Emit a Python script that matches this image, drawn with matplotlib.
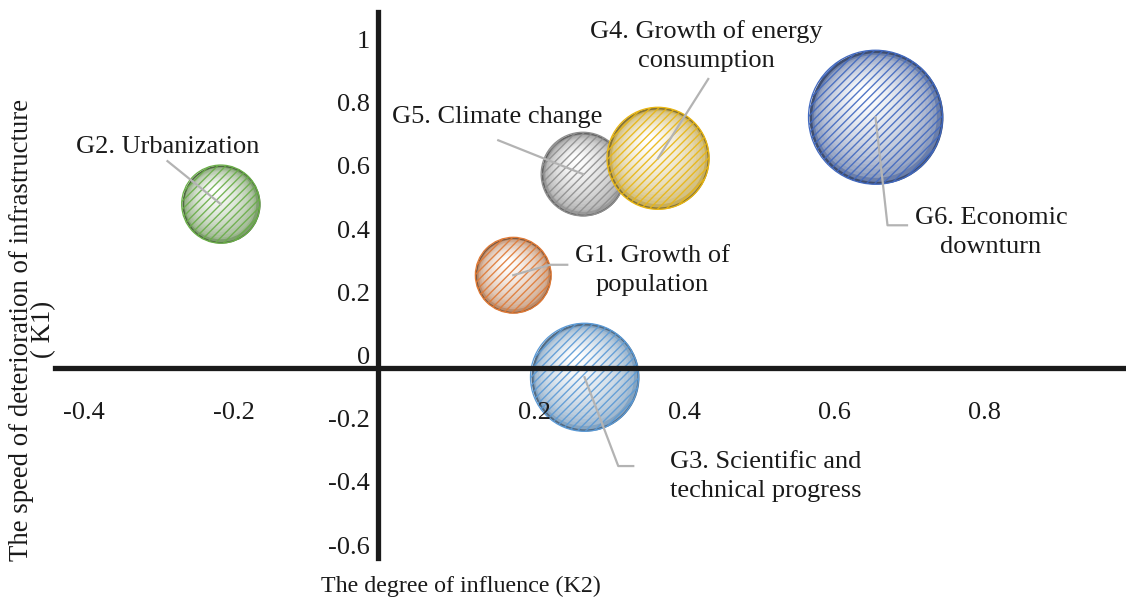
import numpy as np
import matplotlib.pyplot as plt
from matplotlib.colors import to_rgb
from matplotlib.transforms import ScaledTranslation

plt.rcParams['font.family'] = ['Liberation Serif', 'DejaVu Serif']
plt.rcParams['hatch.linewidth'] = 1.0

# factor groups: K2 = degree of influence, K1 = speed of deterioration
groups = ["G1. Growth of\npopulation", "G2. Urbanization",
          "G3. Scientific and\ntechnical progress",
          "G4. Growth of energy\nconsumption", "G5. Climate change",
          "G6. Economic\ndownturn"]
k2 = [0.18, -0.21, 0.275, 0.373, 0.273, 0.663]
k1 = [0.295, 0.52, -0.028, 0.665, 0.615, 0.795]
weight = [0.32, 0.34, 0.65, 0.58, 0.39, 1.0]   # relative bubble area

xticks = [-0.4, -0.2, 0.2, 0.4, 0.6, 0.8]
xtick_labels = ["-0.4", "-0.2", "0.2", "0.4", "0.6", "0.8"]
yticks = [-0.6, -0.4, -0.2, 0, 0.2, 0.4, 0.6, 0.8, 1]
ytick_labels = ["-0.6", "-0.4", "-0.2", "0", "0.2", "0.4", "0.6", "0.8", "1"]

colors = ['#e07a36', '#6aae48', '#5b9ad6', '#e9b612', '#8f8f8f', '#4169c0']
draw_order = [0, 1, 2, 4, 3, 5]
max_size = 9312

# label placement and leader-line bends
label_xy = [(0.365, 0.31), (-0.281, 0.70), (0.517, -0.342),
            (0.437, 1.02), (0.159, 0.795), (0.817, 0.43)]
leader_pts = [[(0.229, 0.328), (0.252, 0.328)], [(-0.281, 0.656)],
              [(0.32, -0.309), (0.34, -0.309)], [(0.44, 0.916)],
              [(0.16, 0.722)], [(0.679, 0.453), (0.705, 0.453)]]

fig = plt.figure(figsize=(11.26, 6.02), dpi=100)
ax = fig.add_axes([55 / 1126, 44 / 602, 1071 / 1126, 546 / 602])
ax.set_xlim(-0.431, 0.997)
ax.set_ylim(-0.578, 1.128)


def bubble(x, y, s, color, z):
    r_pt = np.sqrt(s) / 2
    base = np.array(to_rgb(color))
    grey = 0.55 * base + 0.45 * base.mean()
    rim = grey * 0.7
    ax.scatter([x], [y], s=s, color=rim, linewidths=0, zorder=z)
    n = 20
    for i in range(n):
        f = 0.96 - 0.85 * i / (n - 1)
        t = (i / (n - 1)) ** 0.5
        c = (grey * 0.9 + 0.1) * (1 - t) + 1.0 * t
        d = (0.96 - f) * r_pt * 0.42 / 72
        off = ScaledTranslation(-d * 0.5, d, fig.dpi_scale_trans)
        ax.scatter([x], [y], s=s * f ** 2, color=c, linewidths=0,
                   transform=ax.transData + off, zorder=z)
    ax.scatter([x], [y], s=s, facecolors='none',
               edgecolors=(*base, 0.9), linewidths=0,
               hatch='////', zorder=z)
    ax.scatter([x], [y], s=s, facecolors='none', edgecolors=base,
               linewidths=0.9, zorder=z)


for k, i in enumerate(draw_order):
    bubble(k2[i], k1[i], weight[i] * max_size, colors[i], 1 + k * 0.01)

for i in range(len(groups)):
    px = [k2[i]] + [p[0] for p in leader_pts[i]]
    py = [k1[i]] + [p[1] for p in leader_pts[i]]
    ax.plot(px, py, color='#b3b3b3', lw=1.6, zorder=2)
    ax.text(label_xy[i][0], label_xy[i][1], groups[i], fontsize=19,
            ha='center', va='center', ma='center', color='#1a1a1a',
            linespacing=1.4, zorder=3)

for side in ['top', 'right']:
    ax.spines[side].set_visible(False)
for side in ['left', 'bottom']:
    ax.spines[side].set_position(('data', 0))
    ax.spines[side].set_linewidth(3.8)
    ax.spines[side].set_color('#1a1a1a')
    ax.spines[side].set_zorder(4)

ax.set_xticks(xticks)
ax.set_xticklabels(xtick_labels)
ax.set_yticks(yticks)
ax.set_yticklabels(ytick_labels)
ax.tick_params(axis='both', length=0, labelsize=19, labelcolor='#1a1a1a')
ax.tick_params(axis='x', pad=24)
ax.tick_params(axis='y', pad=6)
for lbl in ax.get_xticklabels():
    lbl.set_transform(lbl.get_transform() + ScaledTranslation(0.06, 0, fig.dpi_scale_trans))
for lbl in ax.get_yticklabels():
    lbl.set_transform(lbl.get_transform() + ScaledTranslation(0, 0.13, fig.dpi_scale_trans))

ax.set_xlabel("The degree of influence (K2)", fontsize=17.3, color='#1a1a1a')
ax.xaxis.set_label_coords(0.379, -0.033)
ax.set_ylabel("The speed of deterioration of infrastructure\n( K1)",
              fontsize=19.3, color='#1a1a1a', linespacing=0.85)
ax.yaxis.set_label_coords(0.001, 0.418)

fig.savefig("out.png", dpi=100)
